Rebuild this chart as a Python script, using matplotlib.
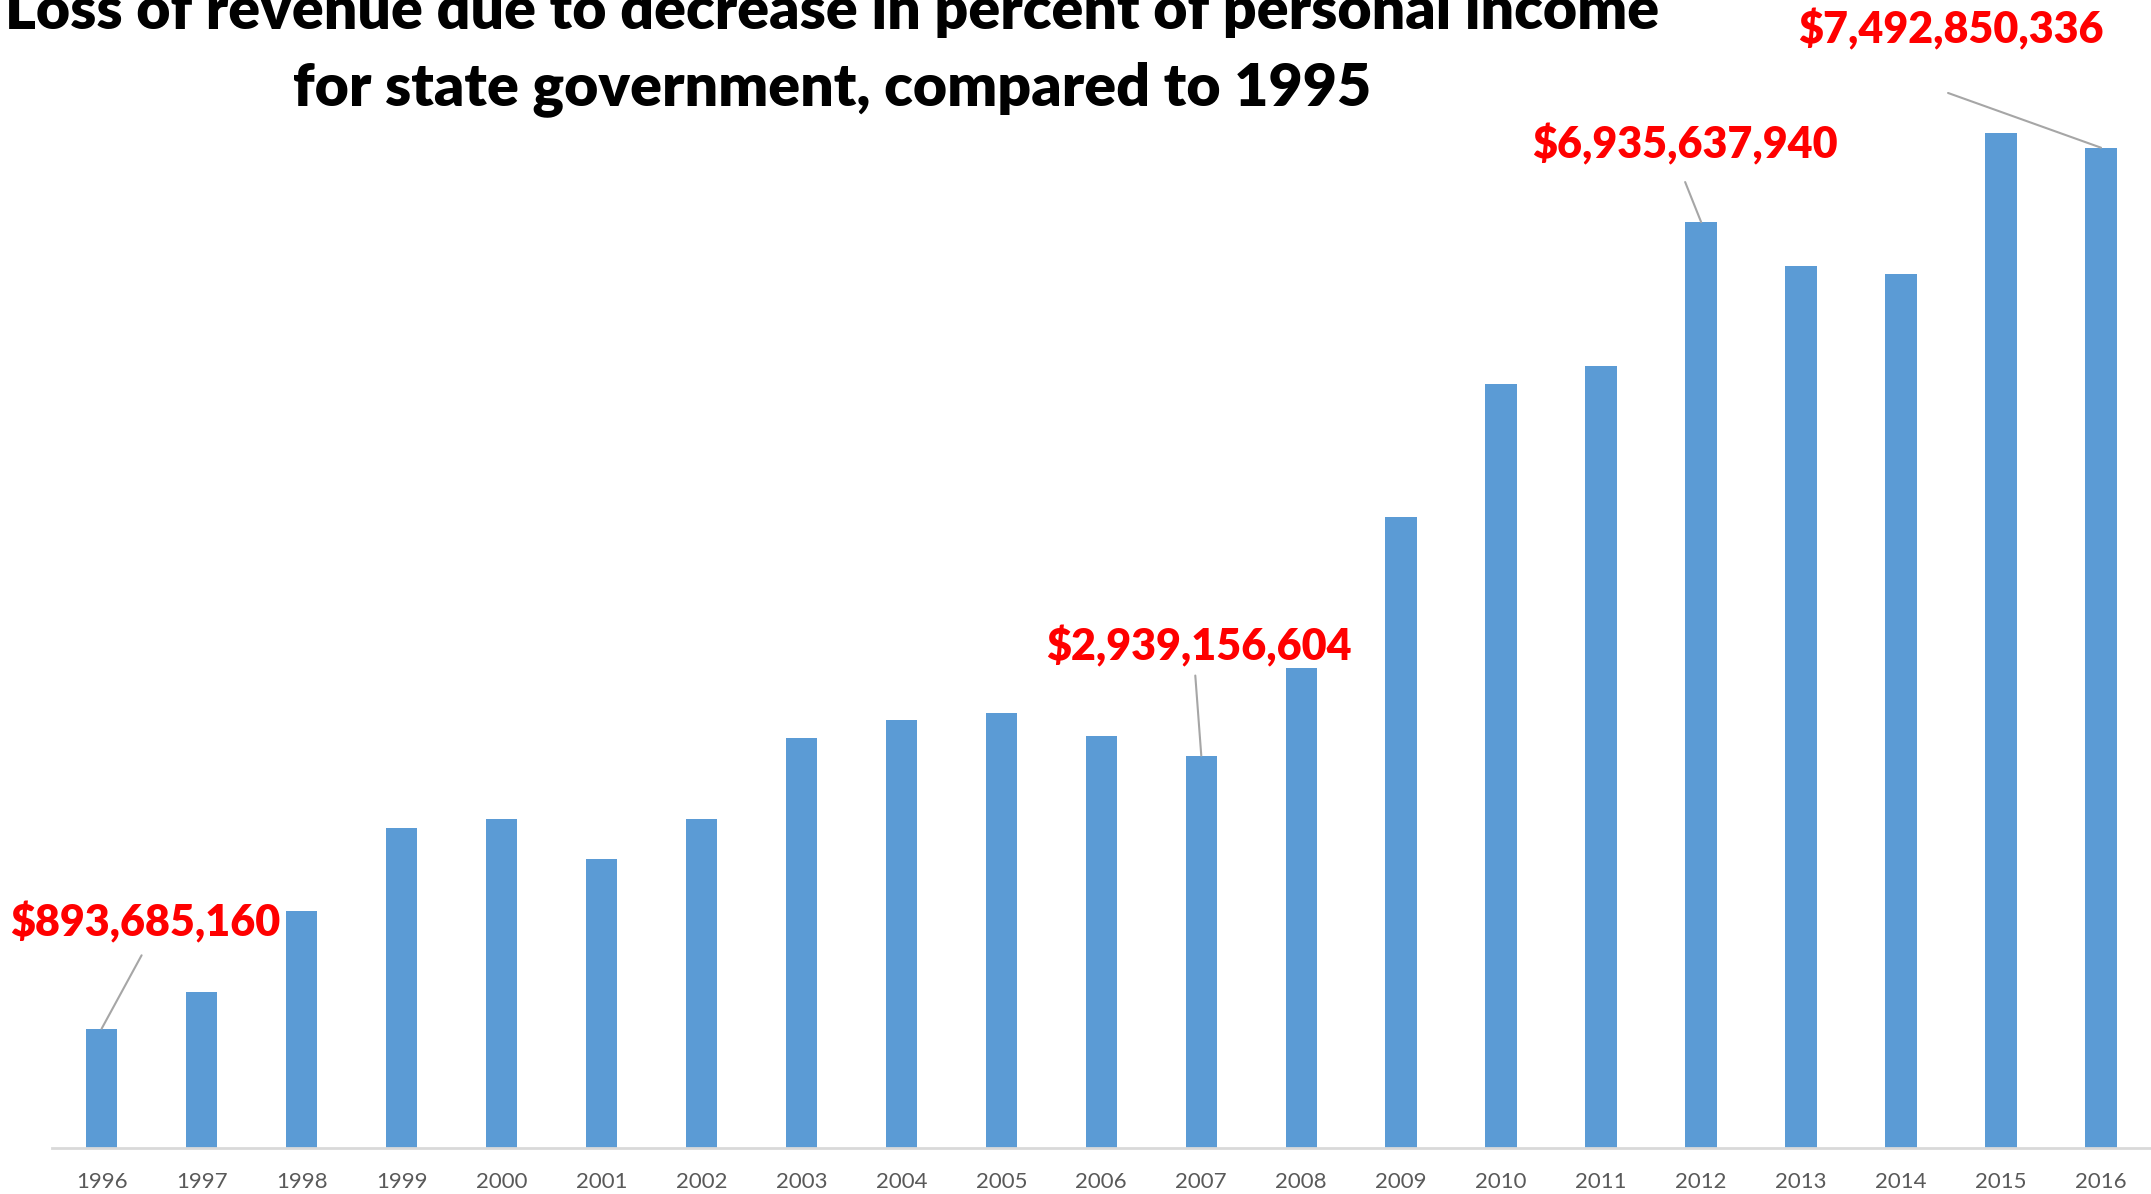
import numpy as np
import matplotlib
matplotlib.use("Agg")
import matplotlib.pyplot as plt

plt.rcParams['font.family'] = ['Lato', 'DejaVu Sans']

# data
years = [str(y) for y in range(1996, 2017)]
loss = [893685160, 1172000000, 1778000000, 2395000000, 2467000000,
        2168000000, 2467000000, 3073000000, 3206000000, 3258000000,
        3083000000, 2939156604, 3597000000, 4727000000, 5724000000,
        5858000000, 6935637940, 6608000000, 6546000000, 7605000000,
        7492850336]

# labelled bars: index, text offset (dx, dy), leader start offset (dx, dy)
callouts = [
    (0, (0.44, 0.80e9), (0.40, 0.55e9)),
    (11, (-0.02, 0.82e9), (-0.06, 0.60e9)),
    (16, (-0.16, 0.58e9), (-0.16, 0.30e9)),
    (20, (-1.50, 0.89e9), (-1.53, 0.41e9)),
]

bar_color = "#5B9BD5"
red = "#FF0000"

fig = plt.figure(figsize=(21.51, 11.94), dpi=100)
ax = fig.add_axes([0.024, 0.0385, 0.976, 0.8945])

x = np.arange(len(years))
ax.bar(x, loss, width=0.315, color=bar_color, zorder=2)

ax.set_xlim(-0.5, len(years) - 0.5)
ax.set_ylim(0, 8e9)
ax.set_xticks(x)
ax.set_xticklabels(years, fontsize=16, color="#595959")
ax.tick_params(axis='x', length=0, pad=17)
ax.set_yticks([])
for s in ['top', 'right', 'left']:
    ax.spines[s].set_visible(False)
ax.spines['bottom'].set_color("#D9D9D9")
ax.spines['bottom'].set_linewidth(2)

for i, (tdx, tdy), (ldx, ldy) in callouts:
    v = loss[i]
    ax.annotate("", xy=(i, v), xytext=(i + ldx, v + ldy),
                arrowprops=dict(arrowstyle='-', color="#A6A6A6", lw=1.5,
                                shrinkA=0, shrinkB=0), annotation_clip=False)
    ax.text(i + tdx, v + tdy, "${:,}".format(v), ha='center', va='center',
            fontsize=31, fontweight='heavy', color=red, clip_on=False)

fig.text(0.387, 1 - 12 / 1194, "Loss of revenue due to decrease in percent of personal income",
         ha='center', va='center', fontsize=42.5, fontweight='heavy', color='black')
fig.text(0.387, 1 - 89 / 1194, "for state government, compared to 1995",
         ha='center', va='center', fontsize=42.5, fontweight='heavy', color='black')

fig.savefig("out.png", dpi=100)
